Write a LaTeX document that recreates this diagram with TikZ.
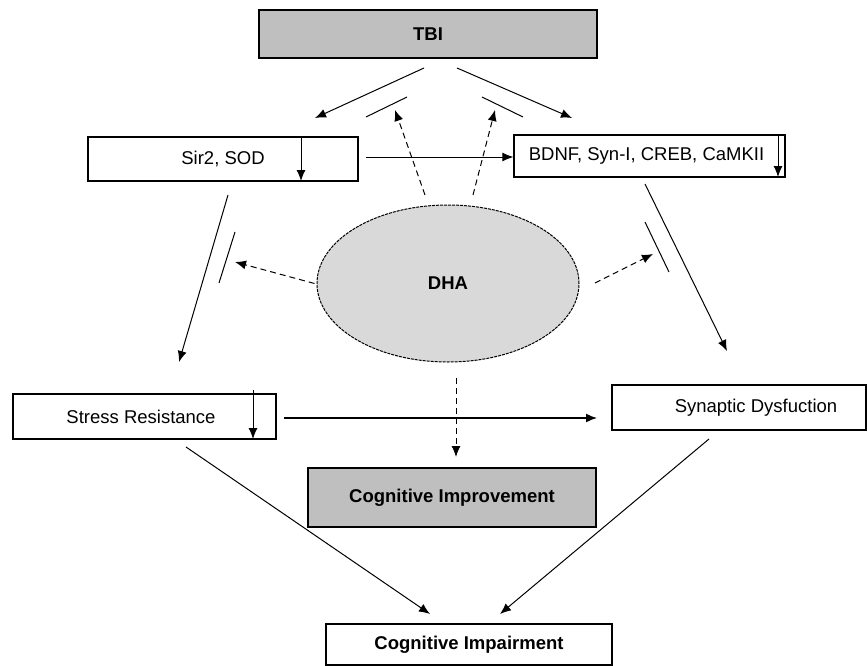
\documentclass[tikz,border=0pt]{standalone}
\usepackage{fontspec}
\setmainfont{Liberation Sans}
\usetikzlibrary{arrows.meta,shapes.geometric}
\definecolor{boxgray}{gray}{0.75}
\definecolor{ellgray}{gray}{0.85}
\tikzset{
  bx/.style={draw, line width=1.2pt, inner sep=0pt, font=\fontsize{18.5}{20}\selectfont},
  arr/.style={line width=1pt, -{Latex[length=11pt,width=9pt]}},
  darr/.style={line width=1pt, dash pattern=on 6pt off 4pt, -{Latex[length=11pt,width=9pt]}},
  bar/.style={line width=1pt},
}
\begin{document}
\begin{tikzpicture}[x=1pt,y=-1pt]
\useasboundingbox (0,0) rectangle (867,666);
% boxes
\node[bx, fill=boxgray, minimum width=338pt, minimum height=48pt, font=\fontsize{18.5}{20}\selectfont\bfseries] (tbi) at (428,34) {TBI};
\node[bx, minimum width=270pt, minimum height=44pt] (sir) at (223,159) {Sir2, SOD};
\node[bx, minimum width=271pt, minimum height=42pt] (bdnf) at (649.5,156) {BDNF, Syn-I, CREB, CaMKII\hspace*{6pt}};
\node[bx, minimum width=263pt, minimum height=45pt] (sr) at (144.5,416.5) {Stress Resistance\hspace*{7pt}};
\node[bx, minimum width=254pt, minimum height=45pt, label={[xshift=17pt, font=\fontsize{18.5}{20}\selectfont]center:Synaptic Dysfuction}] (syn) at (739,407.5) {};
\node[bx, fill=boxgray, minimum width=288pt, minimum height=59pt, font=\fontsize{18.5}{20}\selectfont\bfseries] (cimp) at (452,497.5) {Cognitive Improvement};
\node[bx, minimum width=286pt, minimum height=41pt, font=\fontsize{18.5}{20}\selectfont\bfseries] (cimpair) at (469,644.5) {Cognitive Impairment};
\node[ellipse, draw, fill=ellgray, line width=1pt, dash pattern=on 3pt off 1pt, minimum width=262pt, minimum height=157pt, inner sep=0pt, font=\fontsize{18.5}{20}\selectfont\bfseries] (dha) at (448,283.5) {DHA};

% coordinates
\coordinate (tlA) at (424,68); \coordinate (tlB) at (315,118);
\coordinate (trA) at (457,68); \coordinate (trB) at (572,118);
\coordinate (blA) at (366,117); \coordinate (blB) at (407,97);
\coordinate (brA) at (482,97); \coordinate (brB) at (523,117);
\coordinate (dulA) at (425,195); \coordinate (dulB) at (395,110);
\coordinate (durA) at (473,195); \coordinate (durB) at (495,110);
\coordinate (llA) at (228,195); \coordinate (llB) at (179,362);
\coordinate (lbA) at (235,232); \coordinate (lbB) at (219,283);
\coordinate (dlB) at (235,262);
\coordinate (rlA) at (645,184); \coordinate (rlB) at (727,351);
\coordinate (rbA) at (645,222); \coordinate (rbB) at (669,272);
\coordinate (drA) at (595,283); \coordinate (drB) at (653,254);
\coordinate (sbA) at (366,157);
\coordinate (ssA) at (284,418); \coordinate (ssB) at (597,418);
\coordinate (ddA) at (456,378); \coordinate (ddB) at (456,457);
\coordinate (sciA) at (186,447); \coordinate (sciB) at (430,614);
\coordinate (yciA) at (709,439); \coordinate (yciB) at (500,614);
\coordinate (sirdA) at (301,137); \coordinate (sirdB) at (301,181);
\coordinate (bdA) at (778,135); \coordinate (bdB) at (778,177);
\coordinate (srdA) at (253,390); \coordinate (srdB) at (253,439);

% connectors
\draw[arr] (tlA) -- (tlB);
\draw[arr] (trA) -- (trB);
\draw[bar] (blA) -- (blB);
\draw[bar] (brA) -- (brB);
\draw[darr] (dulA) -- (dulB);
\draw[darr] (durA) -- (durB);
\draw[arr] (sbA) -- (sbA -| bdnf.west);
\draw[arr] (llA) -- (llB);
\draw[bar] (lbA) -- (lbB);
\draw[darr] ([xshift=-2pt]dha.west) -- (dlB);
\draw[arr] (rlA) -- (rlB);
\draw[bar] (rbA) -- (rbB);
\draw[darr] (drA) -- (drB);
\draw[arr, line width=1.5pt] (ssA) -- (ssB);
\draw[darr] (ddA) -- (ddB);
\draw[arr] (sciA) -- (sciB);
\draw[arr] (yciA) -- (yciB);
% inner arrows
\draw[arr] (sirdA) -- (sirdB);
\draw[arr] (bdA) -- (bdB);
\draw[arr] (srdA) -- (srdB);
\end{tikzpicture}
\end{document}
